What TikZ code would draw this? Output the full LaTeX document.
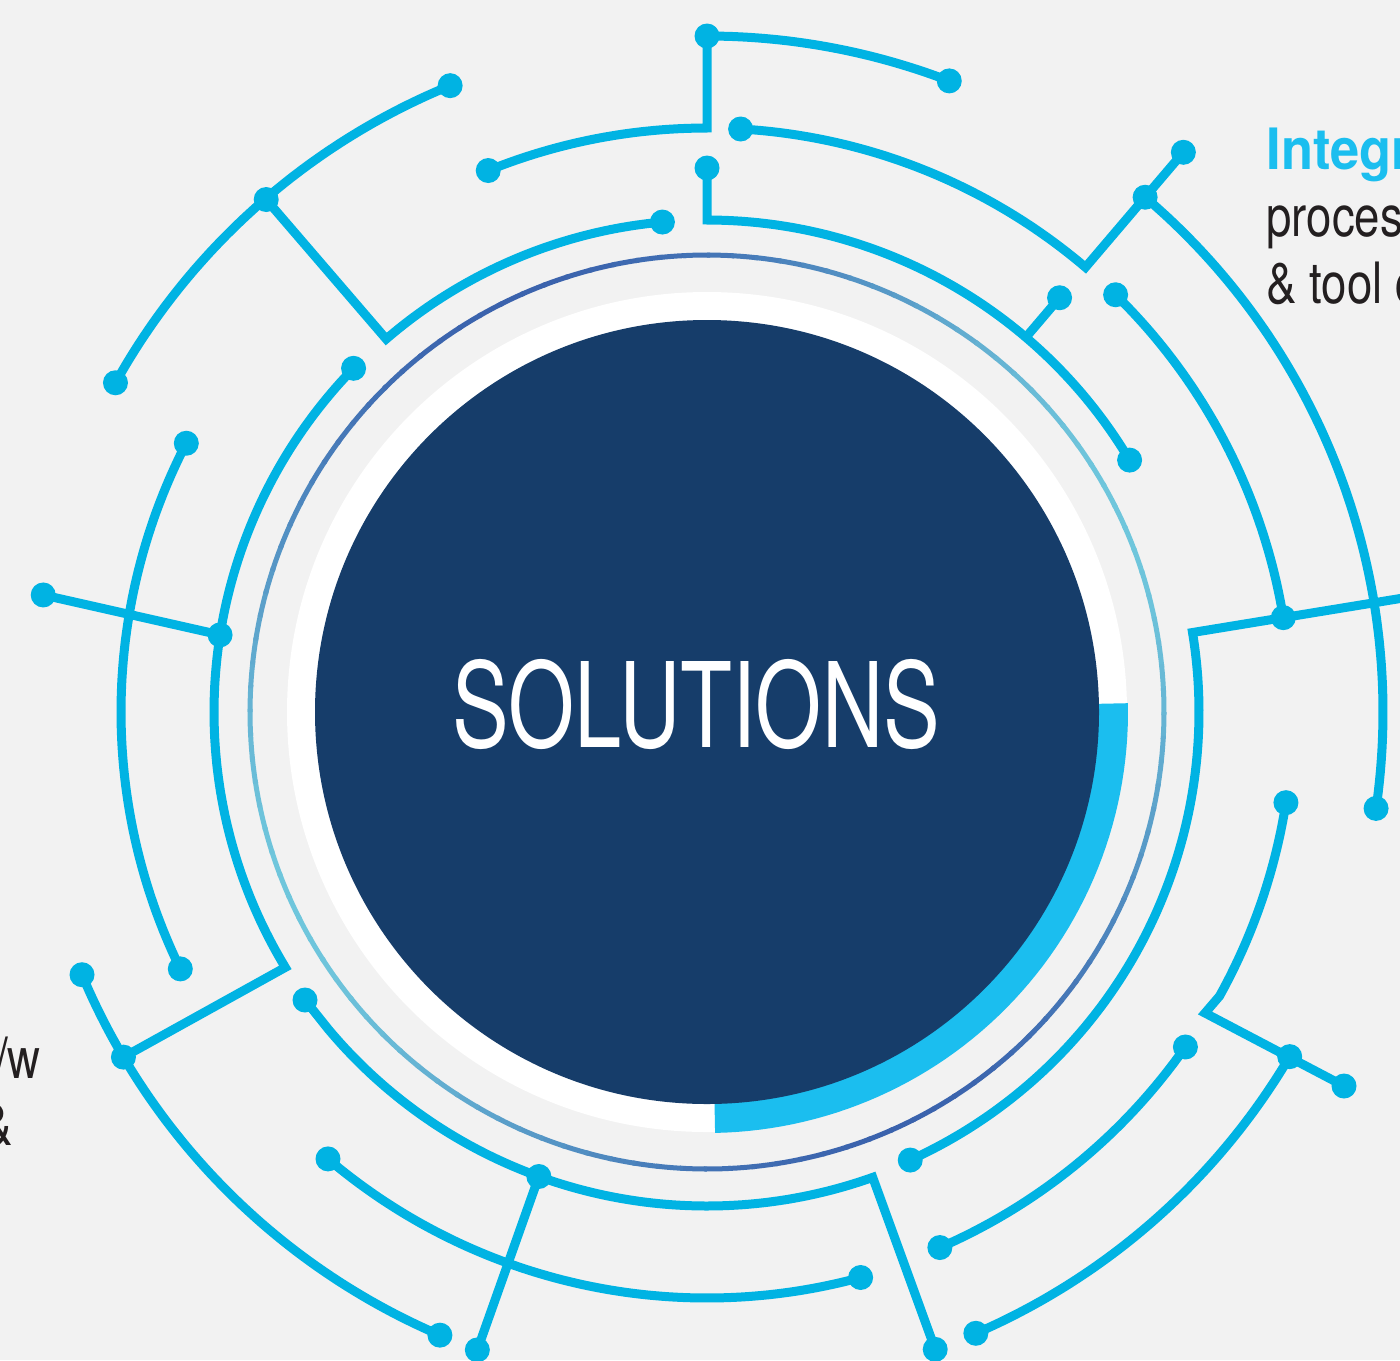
\documentclass[tikz,border=0pt]{standalone}
\usepackage{fontspec}
\setmainfont{TeX Gyre Heros}
\newfontfamily\solfont[FakeStretch=0.72]{TeX Gyre Heros}
\newfontfamily\sidefont[FakeStretch=0.8]{TeX Gyre Heros}
\newfontfamily\headfont[FakeStretch=0.92]{TeX Gyre Heros}
\definecolor{bgc}{HTML}{F2F2F2}
\definecolor{tracec}{HTML}{00B3E3}
\definecolor{navyc}{HTML}{163D6A}
\definecolor{cyanp}{HTML}{1BBEEF}
\definecolor{glight}{HTML}{6FC6DC}
\definecolor{gdark}{HTML}{3A62AD}
\definecolor{textc}{HTML}{231F20}
\begin{document}
\begin{tikzpicture}[x=0.5pt,y=-0.5pt,
  trace/.style={line width=4.5pt,draw=tracec,line join=miter},
  dot/.style={circle,fill=tracec,inner sep=0pt,minimum size=12.5pt},
  side/.style={inner sep=0pt,text=textc,font=\sidefont\fontsize{28.5}{30}\selectfont}]
\fill[bgc] (0,0) rectangle (1400,1360);
\useasboundingbox (0,0) rectangle (1400,1360);
\clip (0,0) rectangle (1400,1360);
\begin{scope}[shift={(707,712)}]
  % gradient ring
  \foreach \a in {0,3,...,357}{
    \pgfmathsetmacro\b{\a+3.4}
    \pgfmathtruncatemacro\tt{50*(1-cos(2*(\a+1.5+25)))}
    \draw[line width=2.5pt,draw=gdark!\tt!glight] plot[domain=\a:\b,samples=4] (\x:457);
  }
  % core
  \fill[white] (0,0) circle[radius=210pt];
  \fill[cyanp] (0,0) -- plot[domain=-1.2:88.9,samples=60] (\x:421) -- cycle;
  \fill[navyc] (0,0) circle[radius=196pt];
  % traces
  \draw[trace] plot[domain=-69:-90,samples=40] (\x:676) -- plot[domain=-90:-112,samples=40] (\x:584);
  \draw[trace] plot[domain=-86.7:-49.6,samples=60] (\x:584) -- (-49.6:735);
  \draw[trace] plot[domain=-49.6:8.2,samples=90] (\x:676);
  \draw[trace] (-90:544) -- plot[domain=-90:-30.8,samples=90] (\x:492);
  \draw[trace] (-49.6:492) -- (-49.6:544);
  \draw[trace] plot[domain=-95.2:-130.7,samples=60] (\x:492) -- (-130.7:676);
  \draw[trace] plot[domain=-150.9:-112.3,samples=60] (\x:677);
  \draw[trace] plot[domain=65.6:-9.3,samples=100] (\x:492) -- (-9.3:760);
  \draw[trace] plot[domain=-45.6:-9.3,samples=60] (\x:584);
  \draw[trace] plot[domain=8.9:29,samples=40] (\x:586) -- (498,301) -- (637,374);
  \draw[trace] plot[domain=30.6:66.6,samples=60] (\x:677);
  \draw[trace] plot[domain=35:66.5,samples=60] (\x:584);
  \draw[trace] (70.3:677) -- plot[domain=70.4:140,samples=100] (\x:494) -- (-402,288);
  \draw[trace] (109.9:494) -- (109.8:678);
  \draw[trace] plot[domain=130.3:74.8,samples=80] (\x:586);
  \draw[trace] plot[domain=-135.8:-211.2,samples=100] (\x:493) -- (-210.6:678);
  \draw[trace] plot[domain=-202.8:-246.8,samples=60] (\x:678);
  \draw[trace] (-171:493) -- (-170:674);
  \draw[trace] plot[domain=-152.7:-206,samples=80] (\x:586);
  % dots
  \node[dot] (a1) at (-69:676) {};
  \node[dot] (a2) at (-90:676) {};
  \node[dot] (a3) at (-112:584) {};
  \node[dot] (b1) at (-86.7:584) {};
  \node[dot] (b2) at (-49.6:676) {};
  \node[dot] (b3) at (-49.6:735) {};
  \node[dot] (b4) at (8.2:676) {};
  \node[dot] (c1) at (-90:544) {};
  \node[dot] (c2) at (-30.8:492) {};
  \node[dot] (c3) at (-49.6:544) {};
  \node[dot] (d1) at (-95.2:492) {};
  \node[dot] (d2) at (-130.7:676) {};
  \node[dot] (d3) at (-150.9:677) {};
  \node[dot] (d4) at (-112.3:677) {};
  \node[dot] (e1) at (65.6:492) {};
  \node[dot] (e2) at (-9.3:584) {};
  \node[dot] (e3) at (-45.6:584) {};
  \node[dot] (f1) at (8.9:586) {};
  \node[dot] (f2) at (30.6:677) {};
  \node[dot] (f3) at (637,374) {};
  \node[dot] (f4) at (66.6:677) {};
  \node[dot] (g1) at (35:584) {};
  \node[dot] (g2) at (66.5:584) {};
  \node[dot] (h1) at (70.3:677) {};
  \node[dot] (h2) at (-402,288) {};
  \node[dot] (h3) at (109.9:494) {};
  \node[dot] (h4) at (109.8:678) {};
  \node[dot] (i1) at (130.3:586) {};
  \node[dot] (i2) at (74.8:586) {};
  \node[dot] (j1) at (-135.8:493) {};
  \node[dot] (j2) at (-210.6:678) {};
  \node[dot] (j3) at (-202.8:678) {};
  \node[dot] (j4) at (-246.8:678) {};
  \node[dot] (j5) at (-171:493) {};
  \node[dot] (j6) at (-170:674) {};
  \node[dot] (k1) at (-152.7:586) {};
  \node[dot] (k2) at (-206:586) {};
\end{scope}
\node[anchor=base,inner sep=0pt,text=white,font=\solfont\fontsize{59}{60}\selectfont] (sol) at (696,747) {SOLUTIONS};
\node[side,anchor=base west,text=cyanp,font=\headfont\bfseries\fontsize{28.5}{30}\selectfont] (t1) at (1266,169) {Integrated};
\node[side,anchor=base west] (t2) at (1266,236) {processes};
\node[side,anchor=base west] (t3) at (1266,303) {\& tool chains};
\node[side,anchor=base east] (l1) at (41,1078) {h/w};
\node[side,anchor=base east] (l2) at (13,1145) {\&};
\end{tikzpicture}
\end{document}
